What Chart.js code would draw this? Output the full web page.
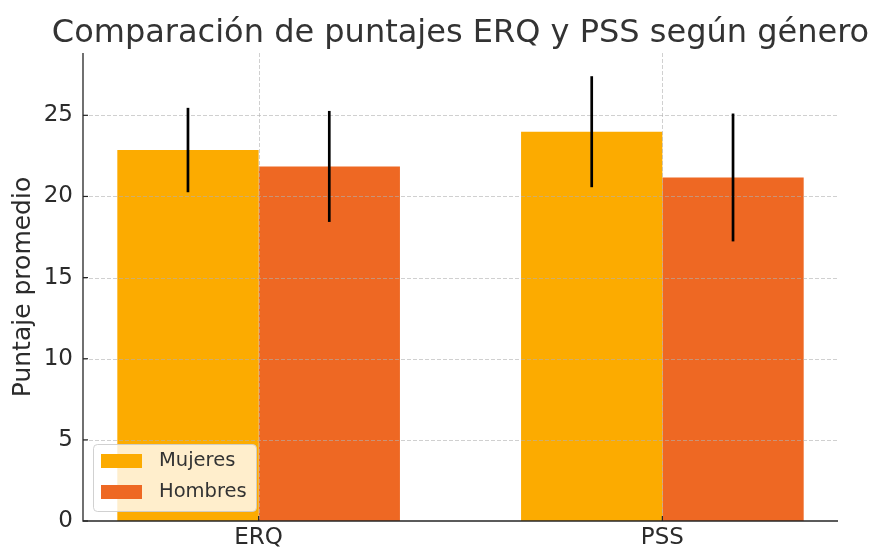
<!DOCTYPE html>
<html><head><meta charset="utf-8">
<script src="https://cdn.jsdelivr.net/npm/chart.js@4"></script>
<style>html,body{margin:0;padding:0;background:#fff}</style>
</head><body>
<canvas id="c" width="874" height="549"></canvas>
<script>
const chartTitle = 'Comparación de puntajes ERQ y PSS según género';
const yAxisLabel = 'Puntaje promedio';
const categories = ['ERQ', 'PSS'];
const seriesNames = ['Mujeres', 'Hombres'];
const mujeres = [22.86, 23.99];
const hombres = [21.85, 21.17];
const mujeresErr = [2.6, 3.42];
const hombresErr = [3.42, 3.94];
const yTicks = [0, 5, 10, 15, 20, 25];
const seriesColors = ['#FCAB00', '#EE6823'];

const FONT = "'DejaVu Sans', sans-serif";
const TEXT = '#2b2b2b';
const errs = [mujeresErr, hombresErr];

const overlay = {
  id: 'overlay',
  afterDatasetsDraw(chart) {
    const ctx = chart.ctx, a = chart.chartArea;
    const xs = chart.scales.x, ys = chart.scales.y;
    ctx.save();
    // grid (over bars)
    ctx.strokeStyle = 'rgba(176,176,176,0.6)';
    ctx.lineWidth = 1;
    ctx.setLineDash([4, 2]);
    yTicks.forEach(v => {
      if (v === 0) return;
      const y = Math.round(ys.getPixelForValue(v)) + 0.5;
      ctx.beginPath(); ctx.moveTo(a.left, y); ctx.lineTo(a.right, y); ctx.stroke();
    });
    categories.forEach((c, i) => {
      const x = Math.round(xs.getPixelForValue(i)) + 0.5;
      ctx.beginPath(); ctx.moveTo(x, a.top); ctx.lineTo(x, a.bottom); ctx.stroke();
    });
    ctx.setLineDash([]);
    // error bars
    ctx.strokeStyle = '#000';
    ctx.lineWidth = 2.7;
    chart.data.datasets.forEach((ds, i) => {
      const meta = chart.getDatasetMeta(i);
      meta.data.forEach((bar, j) => {
        const v = ds.data[j].y, e = errs[i][j];
        ctx.beginPath();
        ctx.moveTo(bar.x, ys.getPixelForValue(v + e));
        ctx.lineTo(bar.x, ys.getPixelForValue(v - e));
        ctx.stroke();
      });
    });
    // axes spines
    ctx.strokeStyle = '#262626';
    ctx.lineWidth = 1.3;
    ctx.beginPath();
    ctx.moveTo(a.left, a.top); ctx.lineTo(a.left, a.bottom); ctx.lineTo(a.right, a.bottom);
    ctx.stroke();
    // inward ticks
    ctx.lineWidth = 1.2;
    yTicks.forEach(v => {
      const y = ys.getPixelForValue(v);
      ctx.beginPath(); ctx.moveTo(a.left, y); ctx.lineTo(a.left + 5, y); ctx.stroke();
    });
    categories.forEach((c, i) => {
      const x = xs.getPixelForValue(i);
      ctx.beginPath(); ctx.moveTo(x, a.bottom); ctx.lineTo(x, a.bottom - 5); ctx.stroke();
    });
    // legend
    const lx = 93, ly = 444, lw = 163, lh = 67;
    ctx.beginPath();
    ctx.roundRect(lx + 0.5, ly + 0.5, lw, lh, 4);
    ctx.fillStyle = 'rgba(255,255,255,0.8)';
    ctx.fill();
    ctx.strokeStyle = 'rgba(204,204,204,0.9)';
    ctx.lineWidth = 1;
    ctx.stroke();
    ctx.font = '19.5px ' + FONT;
    ctx.textBaseline = 'middle';
    ctx.textAlign = 'left';
    chart.data.datasets.forEach((ds, i) => {
      const y = 454 + i * 31;
      ctx.fillStyle = ds.backgroundColor;
      ctx.fillRect(101, y, 41, 14);
      ctx.fillStyle = '#333';
      ctx.fillText(ds.label, 159, y + 7);
    });
    // title
    ctx.font = '32px ' + FONT;
    ctx.fillStyle = '#333';
    ctx.textAlign = 'center';
    ctx.textBaseline = 'alphabetic';
    ctx.fillText(chartTitle, (a.left + a.right) / 2, 42);
    ctx.restore();
  }
};

new Chart(document.getElementById('c'), {
  type: 'bar',
  data: {
    datasets: [
      { label: seriesNames[0], data: mujeres.map((v, i) => ({ x: i, y: v })), backgroundColor: seriesColors[0] },
      { label: seriesNames[1], data: hombres.map((v, i) => ({ x: i, y: v })), backgroundColor: seriesColors[1] }
    ]
  },
  options: {
    responsive: false,
    animation: false,
    devicePixelRatio: 1,
    categoryPercentage: 0.7,
    barPercentage: 1.0,
    layout: { padding: { top: 53, right: 36, bottom: 0, left: 0 } },
    plugins: { legend: { display: false }, title: { display: false }, tooltip: { enabled: false } },
    scales: {
      x: {
        type: 'linear', min: -0.435, max: 1.435, offset: false,
        grid: { display: false, drawTicks: false, offset: false },
        border: { display: false },
        afterBuildTicks: s => { s.ticks = categories.map((c, i) => ({ value: i })); },
        afterFit: s => { s.height = 28; },
        ticks: { callback: v => categories[Math.round(v)], font: { family: FONT, size: 23 }, color: TEXT, padding: 3, maxRotation: 0, autoSkip: false }
      },
      y: {
        min: 0, max: 28.84,
        grid: { display: false, drawTicks: false },
        border: { display: false },
        afterBuildTicks: s => { s.ticks = yTicks.map(v => ({ value: v })); },
        afterFit: s => { s.width = 83; },
        ticks: { font: { family: FONT, size: 23 }, color: TEXT, padding: 10 },
        title: { display: true, text: yAxisLabel, font: { family: FONT, size: 25 }, color: TEXT, padding: { top: 8, bottom: 0 } }
      }
    }
  },
  plugins: [overlay]
});
</script>
</body></html>
